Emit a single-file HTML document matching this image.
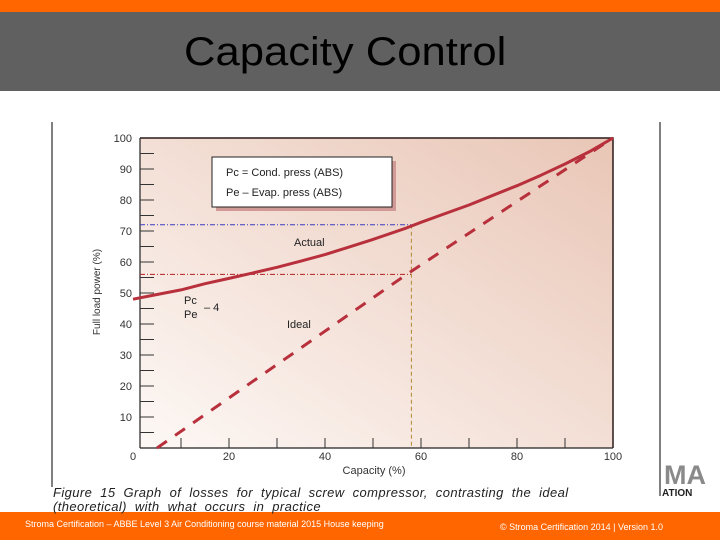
<!DOCTYPE html>
<html><head><meta charset="utf-8"><style>
body{margin:0;width:720px;height:540px;overflow:hidden;background:#fff;font-family:"Liberation Sans",sans-serif;position:relative}
.abs{position:absolute}
</style></head><body>
<div class="abs" style="left:0;top:0;width:720px;height:12px;background:#ff6600"></div>
<div class="abs" style="left:0;top:12px;width:720px;height:79px;background:#606060"></div>
<div class="abs" style="left:184px;top:28px;font-size:40px;color:#000;line-height:48px;transform:scaleX(1.09);transform-origin:0 0">Capacity Control</div>
<div class="abs" style="left:0;top:512px;width:720px;height:28px;background:#ff6600"></div>
<div class="abs" style="left:25px;top:519px;font-size:9px;color:#fff">Stroma Certification – ABBE Level 3  Air Conditioning course material  2015 House keeping</div>
<div class="abs" style="left:500px;top:522px;font-size:9px;color:#fff">© Stroma Certification 2014 |   Version 1.0</div>
<div class="abs" style="left:664px;top:462px;font-size:27px;color:#8a8a8a;font-weight:bold;line-height:27px">MA</div>
<div class="abs" style="left:662px;top:488px;font-size:10px;color:#222;font-weight:bold">ATION</div>
<svg class="abs" style="left:0;top:0" width="720" height="540">
<defs><linearGradient id="bg" x1="0" y1="1" x2="1" y2="0"><stop offset="0" stop-color="#fdf8f5"/><stop offset="1" stop-color="#e9c6b6"/></linearGradient></defs>
<g id="g"></g>
</svg>
<div class="abs" style="left:53px;top:486px;font-size:13px;font-style:italic;color:#222;line-height:14px;word-spacing:4px;letter-spacing:0.4px">Figure 15  Graph of losses for typical screw compressor, contrasting the ideal<br>(theoretical) with what occurs in practice</div>
<script>
const capacities=[0,5,10,15,20,25,30,35,40,45,50,57,60,65,70,75,80,85,90,95,100];
const actualPower=[48,49.5,51,53,54.7,56.5,58.3,60.3,62.4,64.8,67.3,71,72.8,75.6,78.4,81.5,84.6,88,91.6,95.5,100];
const idealCap=[5,57,100];
const idealPower=[0,56,100];
const xTicks=[0,20,40,60,80,100];
const yTicks=[10,20,30,40,50,60,70,80,90,100];
const refActual=72, refIdeal=56, refCap=58;
const NS="http://www.w3.org/2000/svg";
const g=document.getElementById('g');
const X=v=>133+v*4.8, Y=v=>448-v*3.1;
function mk(t,a){const e=document.createElementNS(NS,t);for(const k in a)e.setAttribute(k,a[k]);g.appendChild(e);return e;}
let e;
e=mk('line',{x1:52,y1:122,x2:52,y2:487,stroke:'#000','stroke-width':1});


e=mk('line',{x1:660,y1:122,x2:660,y2:496,stroke:'#000','stroke-width':1});


e=mk('rect',{x:140,y:Y(100),width:X(100)-140,height:Y(0)-Y(100),fill:'url(#bg)'});


e=mk('path',{d:`M140 ${Y(100)}H${X(100)}V${Y(0)}`,fill:'none',stroke:'#2a1a18','stroke-width':1.5});


e=mk('line',{x1:140,y1:Y(100),x2:140,y2:Y(0),stroke:'#222','stroke-width':1.2});


e=mk('line',{x1:140,y1:Y(0),x2:X(100),y2:Y(0),stroke:'#222','stroke-width':1.2});


for(let v=5;v<100;v+=5){e=mk('line',{x1:140,x2:154,y1:Y(v),y2:Y(v),stroke:'#333','stroke-width':1});

}
for(let v=10;v<100;v+=10){e=mk('line',{x1:X(v),x2:X(v),y1:Y(0),y2:Y(0)-10,stroke:'#333','stroke-width':1});

}
yTicks.forEach(v=>{e=mk('text',{x:132,y:Y(v)+4,'text-anchor':'end','font-size':11,fill:'#333'});e.textContent=v;

});
xTicks.forEach(v=>{e=mk('text',{x:X(v),y:460,'text-anchor':'middle','font-size':11,fill:'#333'});e.textContent=v;

});
e=mk('text',{x:374,y:474,'text-anchor':'middle','font-size':11,fill:'#333'});e.textContent='Capacity (%)';


e=mk('text',{x:0,y:0,transform:'translate(100 292) rotate(-90)','text-anchor':'middle','font-size':10,fill:'#333'});e.textContent='Full load power (%)';


e=mk('line',{x1:140,y1:Y(refActual),x2:X(refCap),y2:Y(refActual),stroke:'#3a3ac0','stroke-width':1,'stroke-dasharray':'5 2 1 2'});


e=mk('line',{x1:140,y1:Y(refIdeal),x2:X(refCap),y2:Y(refIdeal),stroke:'#b02020','stroke-width':1,'stroke-dasharray':'5 2 1 2'});


e=mk('line',{x1:X(refCap),y1:Y(refActual),x2:X(refCap),y2:Y(0),stroke:'#b08a30','stroke-width':1,'stroke-dasharray':'4 3'});


e=mk('path',{d:capacities.map((c,i)=>(i?'L':'M')+X(c).toFixed(1)+' '+Y(actualPower[i]).toFixed(1)).join(''),fill:'none',stroke:'#b8303c','stroke-width':3,'stroke-linejoin':'round'});


e=mk('path',{d:idealCap.map((c,i)=>(i?'L':'M')+X(c).toFixed(1)+' '+Y(idealPower[i]).toFixed(1)).join(''),fill:'none',stroke:'#b8303c','stroke-width':3,'stroke-dasharray':'12 10'});


e=mk('rect',{x:216,y:161,width:180,height:50,fill:'#d29a96'});


e=mk('rect',{x:212,y:157,width:180,height:50,fill:'#fff',stroke:'#222','stroke-width':1});


e=mk('text',{x:226,y:176,'font-size':11,fill:'#222'});e.textContent='Pc = Cond. press (ABS)';


e=mk('text',{x:226,y:196,'font-size':11,fill:'#222'});e.textContent='Pe – Evap. press (ABS)';


e=mk('text',{x:294,y:246,'font-size':11,fill:'#222'});e.textContent='Actual';


e=mk('text',{x:287,y:328,'font-size':11,fill:'#222'});e.textContent='Ideal';


e=mk('text',{x:184,y:304,'font-size':11,fill:'#222'});e.textContent='Pc';


e=mk('text',{x:184,y:318,'font-size':11,fill:'#222'});e.textContent='Pe';


e=mk('text',{x:204,y:311,'font-size':11,fill:'#222'});e.textContent='– 4';


</script>
</body></html>
